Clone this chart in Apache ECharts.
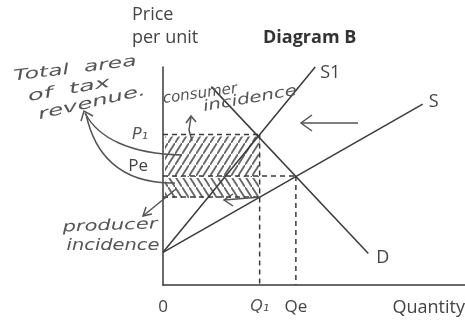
<!DOCTYPE html>
<html>
<head>
<meta charset="utf-8">
<script src="https://cdn.jsdelivr.net/npm/echarts@6/dist/echarts.min.js"></script>
<style>
html, body { margin: 0; padding: 0; background: #fff; }
#main { width: 465px; height: 322px; }
</style>
</head>
<body>
<div id="main"></div>
<script>
// axis ranges (arbitrary units)
var qMax = 100, pMax = 100;
// curves
var supplyS = [[0, 15], [86, 83]];
var supplyS1 = [[0, 15], [50.4, 100]];
var demandD = [[16, 91], [68, 14.5]];
// key prices and quantities
var P1 = 69, Pe = 50, Pp = 40.4;
var Q1 = 32, Qe = 44;
// tick labels
var xTicks = [0, Q1, Qe];
var xTickLabels = ['0', 'Q₁', 'Qe'];
var yTicks = [P1, Pe];
var yTickLabels = ['P₁', 'Pe'];

var ink = '#3a3a3a';
var pen = '#555';
var printFont = '"Open Sans", sans-serif';
var handFont = '"DejaVu Sans", sans-serif';

// diagonal hatch pattern
function hatch(dir) {
    var c = document.createElement('canvas');
    c.width = 7; c.height = 11;
    var g = c.getContext('2d');
    g.strokeStyle = '#666';
    g.lineWidth = 1.8;
    g.beginPath();
    if (dir > 0) {
        g.moveTo(-1, 12.6); g.lineTo(8, -1.6);
    } else {
        g.moveTo(-1, -1.6); g.lineTo(8, 12.6);
    }
    g.stroke();
    return c;
}

var hatchAreas = [
    [0, Pe, Q1, P1, 1],
    [0, Pp, Q1, Pe, -1]
];

var myChart = echarts.init(document.getElementById('main'));

function lineSeries(data, dashed) {
    return {
        type: 'line',
        data: data,
        symbol: 'none',
        silent: true,
        animation: false,
        clip: false,
        z: 3,
        lineStyle: { color: ink, width: 1.5, type: dashed ? [5, 4] : 'solid' }
    };
}

var option = {
    animation: false,
    grid: { left: 163, right: 0, top: 67, bottom: 37 },
    xAxis: {
        type: 'value', min: 0, max: qMax,
        splitLine: { show: false },
        axisTick: { show: false },
        axisLine: { onZero: false, lineStyle: { color: ink, width: 1.5 } },
        axisLabel: {
            customValues: xTicks,
            margin: 14,
            color: '#444',
            fontFamily: printFont,
            fontSize: 17,
            formatter: function (v) {
                var i = xTicks.indexOf(v);
                return i === 1 ? '{h|' + xTickLabels[i] + '}' : xTickLabels[i];
            },
            rich: { h: { fontFamily: handFont, fontStyle: 'italic', fontSize: 16, color: pen } }
        }
    },
    yAxis: {
        type: 'value', min: 0, max: pMax,
        splitLine: { show: false },
        axisTick: { show: false },
        axisLine: { onZero: false, lineStyle: { color: ink, width: 1.5 } },
        axisLabel: {
            customValues: yTicks,
            margin: 15,
            color: '#444',
            fontFamily: printFont,
            fontSize: 17,
            formatter: function (v) {
                var i = yTicks.indexOf(v);
                return i === 0 ? '{h|' + yTickLabels[i] + '}' : '{pe|' + yTickLabels[i] + '}';
            },
            rich: {
                h: { fontFamily: handFont, fontStyle: 'italic', fontSize: 16, color: pen },
                pe: { fontFamily: printFont, fontSize: 17, color: '#444', padding: [0, 0, 20, 0] }
            }
        }
    },
    series: [
        {
            type: 'custom',
            silent: true,
            z: 1,
            data: hatchAreas,
            renderItem: function (params, api) {
                var a = api.coord([api.value(0), api.value(1)]);
                var b = api.coord([api.value(2), api.value(3)]);
                return {
                    type: 'rect',
                    shape: { x: a[0] + 2, y: b[1] + 2, width: b[0] - a[0] - 2, height: a[1] - b[1] - 1 },
                    style: { fill: { image: hatch(api.value(4)), repeat: 'repeat' } }
                };
            }
        },
        lineSeries(supplyS),
        lineSeries(supplyS1),
        lineSeries(demandD),
        lineSeries([[0, P1], [Q1, P1]], true),
        lineSeries([[0, Pe], [Qe, Pe]], true),
        lineSeries([[0, Pp], [Q1, Pp]], true),
        lineSeries([[Q1, P1], [Q1, 0]], true),
        lineSeries([[Qe, Pe], [Qe, 0]], true)
    ]
};
myChart.setOption(option);

function txt(x, y, s, o) {
    o = o || {};
    return {
        type: 'text', x: x, y: y, rotation: o.rot || 0, scaleX: o.sx || 1, z: 10,
        style: {
            text: s,
            fill: o.fill || '#444',
            font: o.font || ('18px ' + printFont),
            align: o.align || 'center',
            verticalAlign: 'middle'
        }
    };
}

var measureCtx = document.createElement('canvas').getContext('2d');
var handCss = 'italic 15px ' + handFont;
// rot in degrees, positive = rising to the right; w = wanted width in px
function hand(x, y, s, rot, w) {
    measureCtx.font = handCss;
    var sx = w / measureCtx.measureText(s).width;
    return txt(x, y, s, { rot: rot * Math.PI / 180, sx: sx, fill: pen, font: handCss });
}
function stroke(points) {
    return { type: 'polyline', z: 10, shape: { points: points }, style: { stroke: pen, lineWidth: 1.5, fill: null } };
}

var endS = myChart.convertToPixel('grid', supplyS[1]);
var endS1 = myChart.convertToPixel('grid', supplyS1[1]);
var endD = myChart.convertToPixel('grid', demandD[1]);

myChart.setOption({
    graphic: [
        txt(132, 15, 'Price', { align: 'left' }),
        txt(132, 38, 'per unit', { align: 'left' }),
        txt(263, 38, 'Diagram B', { align: 'left', font: 'bold 18px ' + printFont, fill: '#333' }),
        txt(465, 308, 'Quantity', { align: 'right' }),
        txt(endS1[0] + 5, endS1[1] + 6, 'S1', { align: 'left' }),
        txt(endS[0] + 6, endS[1] - 2, 'S', { align: 'left' }),
        txt(endD[0] + 8, endD[1] + 4, 'D', { align: 'left' }),
        // handwritten notes
        hand(75, 69, 'Total  area', 7, 124),
        hand(69, 90, 'of  tax', 10, 83),
        hand(92, 103, 'revenue.', 13, 110),
        hand(200, 94, 'consumer', 8, 75),
        hand(250, 99, 'incidence', 10, 95),
        hand(110, 226, 'producer', 2, 95),
        hand(113, 246, 'incidence', 0, 93),
        // curved arrows to the note
        { type: 'bezierCurve', z: 10, shape: { x1: 182, y1: 155, cpx1: 130, cpy1: 154, cpx2: 98, cpy2: 138, x2: 85, y2: 113 }, style: { stroke: pen, lineWidth: 1.5, fill: null } },
        { type: 'bezierCurve', z: 10, shape: { x1: 175, y1: 183, cpx1: 118, cpy1: 184, cpx2: 94, cpy2: 152, x2: 86, y2: 114 }, style: { stroke: pen, lineWidth: 1.5, fill: null } },
        stroke([[81, 121], [84, 111], [93, 116]]),
        // consumer arrow
        stroke([[192, 141], [189, 130], [191, 117]]),
        stroke([[186, 123], [191, 116], [196, 122]]),
        // producer arrow
        stroke([[176, 189], [143, 216]]),
        stroke([[146, 207], [143, 216], [152, 214]]),
        // shift arrow
        stroke([[358, 123], [301, 123]]),
        stroke([[312, 115], [301, 123], [312, 131]]),
        // lower arrow
        stroke([[261, 197], [224, 200]]),
        stroke([[233, 194], [224, 200], [233, 206]])
    ]
});
</script>
</body>
</html>
